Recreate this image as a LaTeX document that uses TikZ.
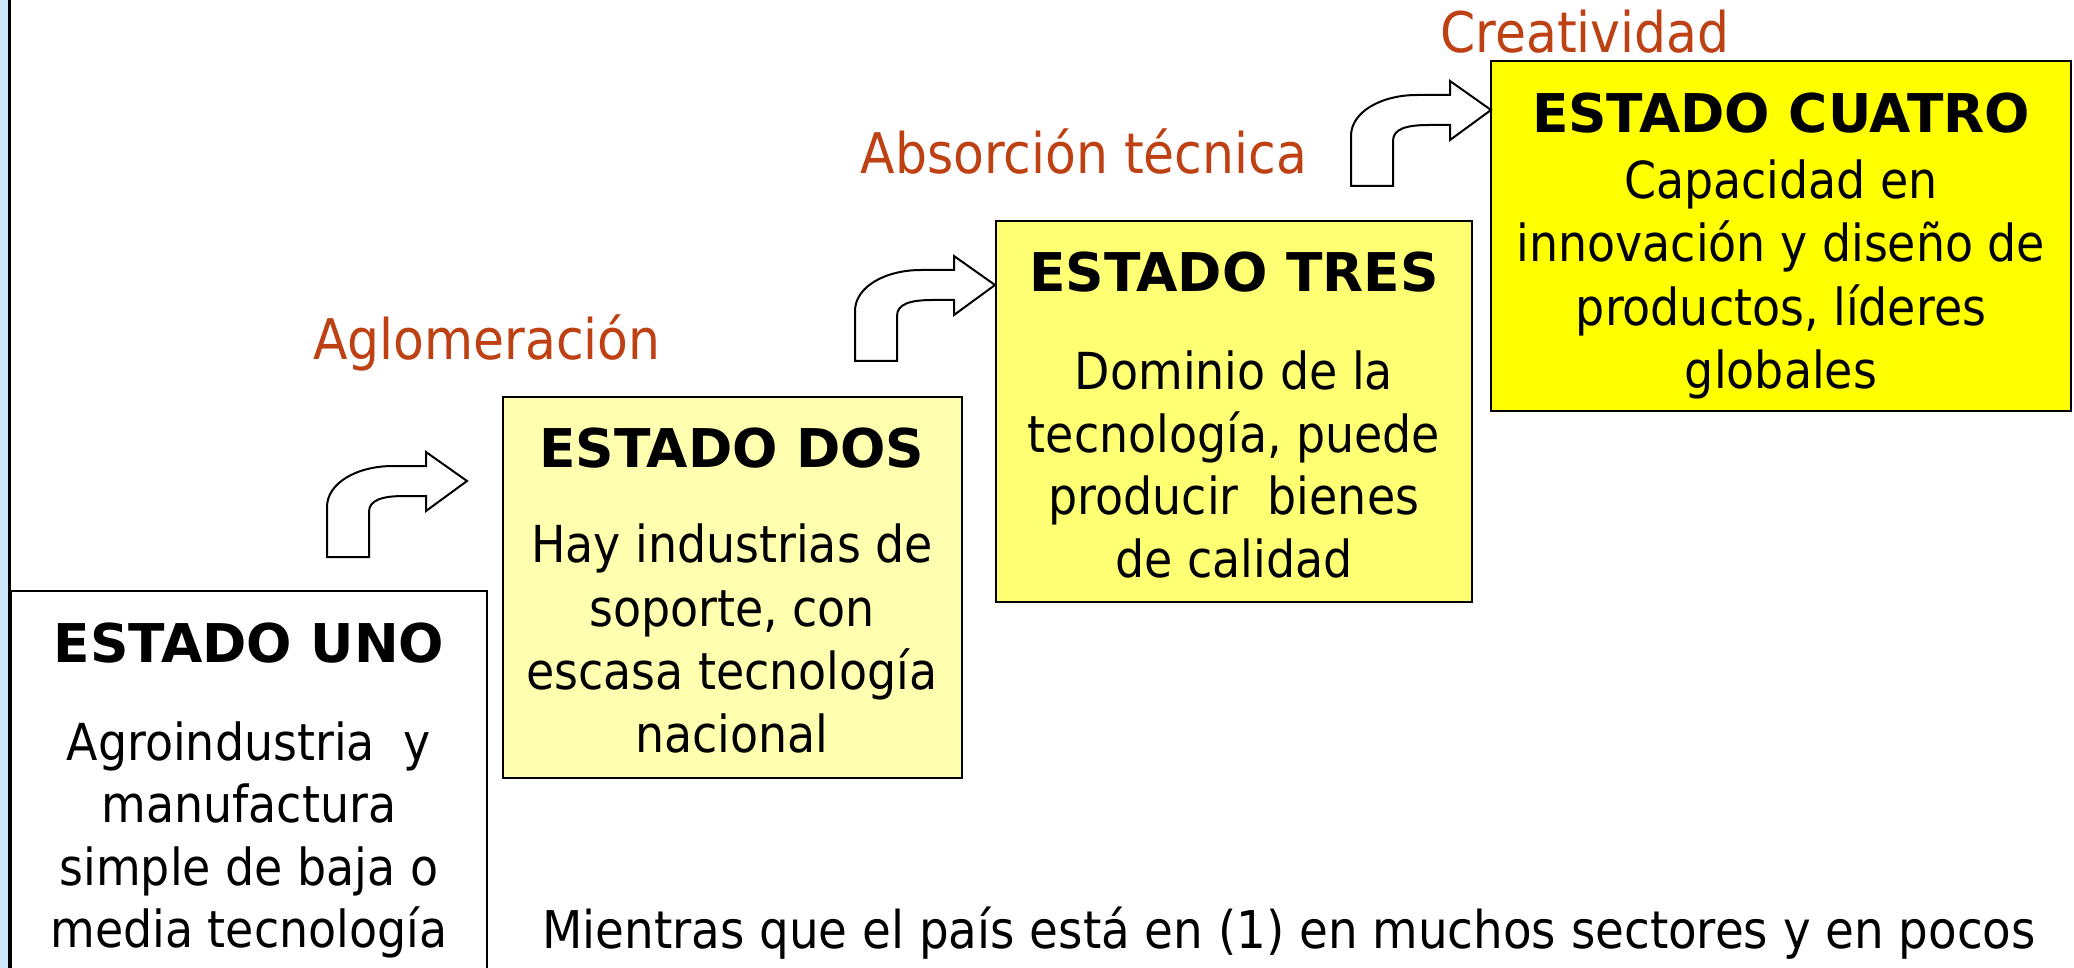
\documentclass[tikz,border=0pt]{standalone}
\usepackage{fontspec}
\setmainfont{DejaVu Sans Condensed}
\newfontfamily\ttlfont{DejaVu Sans}
\definecolor{stripblue}{RGB}{204,232,255}
\definecolor{lblcolor}{RGB}{190,65,20}
\definecolor{fillDos}{RGB}{255,255,175}
\definecolor{fillTres}{RGB}{255,255,115}
\definecolor{fillCuatro}{RGB}{255,255,0}
\begin{document}
\begin{tikzpicture}[x=0.5pt,y=-0.5pt]
\tikzset{
  box/.style={draw=black, line width=1pt, inner sep=0pt, outer sep=0pt, anchor=north west},
  ttl/.style={font=\ttlfont\fontsize{26.7}{32}\selectfont\bfseries, anchor=base, inner sep=0pt},
  txt/.style={font=\fontsize{25.5}{30}\selectfont, anchor=base, inner sep=0pt},
  lbl/.style={font=\fontsize{28}{33}\selectfont, text=lblcolor, anchor=base, inner sep=0pt},
  barrow/.style={draw=black, fill=white, line width=1pt, line join=miter},
  bentarrow/.pic={
    \path[barrow] (0,0) -- (0,-50) .. controls (0,-74) and (30,-91) .. (66,-91)
      -- (99,-91) -- (99,-105) -- (140,-76) -- (99,-46) -- (99,-61) -- (78,-61)
      .. controls (55,-61) and (42,-57) .. (42,-45) -- (42,0) -- cycle;
  }
}
\clip (0,0) rectangle (2074,968);
\fill[white] (0,0) rectangle (2074,968);
% left strip
\fill[stripblue] (0,0) rectangle (9,968);
\draw[line width=1.5pt] (9.5,0) -- (9.5,968);

% boxes
\node[box, fill=white, minimum width=238pt, minimum height=194.5pt] (uno) at (11,591) {};
\node[box, fill=fillDos, minimum width=229.5pt, minimum height=190.5pt] (dos) at (503,397) {};
\node[box, fill=fillTres, minimum width=238pt, minimum height=190.5pt] (tres) at (996,221) {};
\node[box, fill=fillCuatro, minimum width=290pt, minimum height=175pt] (cuatro) at (1491,61) {};

% bent arrows
\pic (a1) at (327,557) {bentarrow};
\pic (a2) at (855,361) {bentarrow};
\pic (a3) at (1351,186) {bentarrow};

% labels
\node[lbl] (lAglo) at (487,360) {Aglomeración};
\node[lbl] (lAbs) at (1084,174) {Absorción técnica};
\node[lbl] (lCrea) at (1585,53) {Creatividad};

% UNO text
\node[ttl] (unoT) at (249,662) {ESTADO UNO};
\node[txt] (uno1) at (249,760) {Agroindustria \ y};
\node[txt] (uno2) at (249,822.5) {manufactura};
\node[txt] (uno3) at (249,885) {simple de baja o};
\node[txt] (uno4) at (249,947.5) {media tecnología};

% DOS text
\node[ttl] (dosT) at (732,467) {ESTADO DOS};
\node[txt] (dos1) at (732,562) {Hay industrias de};
\node[txt] (dos2) at (732,626) {soporte, con};
\node[txt] (dos3) at (732,689) {escasa tecnología};
\node[txt] (dos4) at (732,752) {nacional};

% TRES text
\node[ttl] (tresT) at (1234,292) {ESTADO TRES};
\node[txt] (tres1) at (1234,390) {Dominio de la};
\node[txt] (tres2) at (1234,452.5) {tecnología, puede};
\node[txt] (tres3) at (1234,515) {producir \ bienes};
\node[txt] (tres4) at (1234,577.5) {de calidad};

% CUATRO text
\node[ttl] (cuaT) at (1781,133) {ESTADO CUATRO};
\node[txt] (cua1) at (1781,199) {Capacidad en};
\node[txt] (cua2) at (1781,262) {innovación y diseño de};
\node[txt] (cua3) at (1781,326) {productos, líderes};
\node[txt] (cua4) at (1781,389) {globales};

% bottom text
\node[txt, font=\fontsize{26}{30}\selectfont, anchor=base west] (bottom) at (542,948) {Mientras que el país está en (1) en muchos sectores y en pocos};
\end{tikzpicture}
\end{document}
